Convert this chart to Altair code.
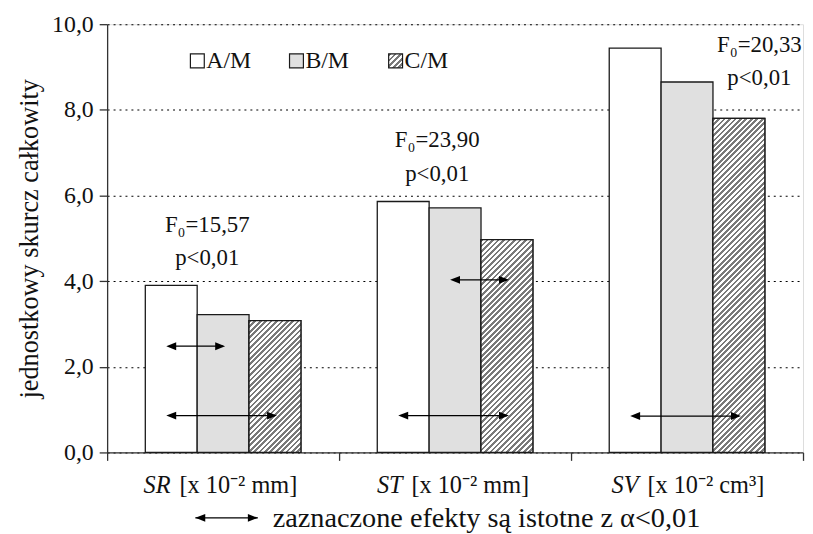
import math
import altair as alt
import pandas as pd

# ---------------- data ----------------
categories = ["SR", "ST", "SV"]
unit_labels = ["[x 10\u207b\u00b2 mm]", "[x 10\u207b\u00b2 mm]", "[x 10\u207b\u00b2 cm\u00b3]"]
groups = ["A/M", "B/M", "C/M"]
values_A = [3.90, 5.86, 9.44]
values_B = [3.22, 5.71, 8.65]
values_C = [3.08, 4.97, 7.80]
f_labels = ["F\u2080=15,57", "F\u2080=23,90", "F\u2080=20,33"]
p_labels = ["p<0,01", "p<0,01", "p<0,01"]
f_label_y = [5.32, 7.29, 9.51]
p_label_y = [4.54, 6.50, 8.75]
arrow_cat = ["SR", "SR", "ST", "ST", "SV"]
arrow_from = ["A/M", "A/M", "B/M", "A/M", "A/M"]
arrow_to = ["B/M", "C/M", "C/M", "C/M", "C/M"]
arrow_y = [2.48, 0.86, 4.03, 0.86, 0.85]
note_text = "zaznaczone efekty s\u0105 istotne z \u03b1<0,01"
y_title = "jednostkowy skurcz ca\u0142kowity"

# ---------------- style ----------------
W, H = 702, 432
FONT = "Liberation Serif"
FS = 23
OUTER_PAD = 0.736
ANNOT_DX = [-16, -18, 73]
LABEL_SPLIT = [(-53, -44), (-53, -44), (-49, -40)]
FILLS = ["#ffffff", "#e0e0e0", "#ffffff"]
STROKE = "#1a1a1a"

bar_w = (W / 3) / (3 + 2 * OUTER_PAD)


def hatch(w, h, period=3.9, color="#7a7a7a", frac=0.5):
    lam = (w + h) / (w * w + h * h)
    n = max(1, int(round((w + h) / (math.sqrt(2) * period))))
    stops = []
    for i in range(n):
        a, b, c = i / n, (i + frac) / n, (i + 1) / n
        stops += [
            {"offset": a, "color": color},
            {"offset": b, "color": color},
            {"offset": b, "color": "#ffffff"},
            {"offset": c, "color": "#ffffff"},
        ]
    return {"gradient": "linear", "x1": 0, "y1": 0, "x2": lam * w, "y2": lam * h, "stops": stops}


rows = []
for i, c in enumerate(categories):
    for g, vals in zip(groups, [values_A, values_B, values_C]):
        rows.append({"cat": c, "grp": g, "val": vals[i]})
bars_df = pd.DataFrame(rows)

x_enc = alt.X(
    "cat:N",
    scale=alt.Scale(domain=categories, paddingInner=0, paddingOuter=0),
    axis=alt.Axis(
        title=None, labels=False, tickBand="extent", tickSize=8, tickColor="#333",
        domainColor="#333", domainWidth=1.3, tickWidth=1.3, grid=False,
    ),
)
xo_enc = alt.XOffset("grp:N", scale=alt.Scale(domain=groups, paddingInner=0, paddingOuter=OUTER_PAD))
y_enc = alt.Y(
    "val:Q",
    scale=alt.Scale(domain=[0, 10], nice=False),
    axis=alt.Axis(
        values=[0, 2, 4, 6, 8, 10],
        labelExpr="replace(format(datum.value, '.1f'), '.', ',')",
        grid=True, gridDash=[2, 4], gridColor="#000", gridWidth=1.1,
        tickSize=8, tickColor="#333", tickWidth=1.3, domainColor="#333", domainWidth=1.3,
        labelFont=FONT, labelFontSize=24, labelColor="#111", labelPadding=6,
        title=y_title, titleFont=FONT, titleFontSize=26.5, titleFontWeight="normal",
        titleColor="#111", titlePadding=8,
    ),
)

base = alt.Chart(bars_df)
bars = base.mark_bar(stroke=STROKE, strokeWidth=1.3).encode(
    x=x_enc, xOffset=xo_enc, y=y_enc,
    fill=alt.Fill("grp:N", scale=alt.Scale(domain=groups, range=FILLS), legend=None),
)

layers = [bars]
for i, c in enumerate(categories):
    h = values_C[i] * H / 10
    layers.append(
        base.transform_filter((alt.datum.cat == c) & (alt.datum.grp == groups[2]))
        .mark_bar(stroke=STROKE, strokeWidth=1.3, fill=hatch(bar_w, h))
        .encode(x="cat:N", xOffset="grp:N", y="val:Q")
    )

# arrows
arows = []
for k, (c, a, b, yv) in enumerate(zip(arrow_cat, arrow_from, arrow_to, arrow_y)):
    arows.append({"id": k, "cat": c, "grp": a, "y": yv, "end": "L"})
    arows.append({"id": k, "cat": c, "grp": b, "y": yv, "end": "R"})
arr_df = pd.DataFrame(arows)
arr_base = alt.Chart(arr_df)
layers.append(
    arr_base.mark_line(color="#000", strokeWidth=1.3).encode(
        x="cat:N", xOffset="grp:N", y="y:Q", detail="id:N"
    )
)
layers.append(
    arr_base.transform_filter(alt.datum.end == "L")
    .mark_point(shape="M -1 0 L 1 -0.8 L 1 0.8 Z", size=100, filled=True, color="#000", opacity=1)
    .encode(x="cat:N", xOffset="grp:N", y="y:Q")
)
layers.append(
    arr_base.transform_filter(alt.datum.end == "R")
    .mark_point(shape="M 0.4 0 L -1.6 -0.8 L -1.6 0.8 Z", size=100, filled=True, color="#000", opacity=1)
    .encode(x="cat:N", xOffset="grp:N", y="y:Q")
)

# annotations
ann_rows = []
for i, c in enumerate(categories):
    ann_rows.append({"cat": c, "t": f_labels[i], "y": f_label_y[i]})
    ann_rows.append({"cat": c, "t": p_labels[i], "y": p_label_y[i]})
ann_df = pd.DataFrame(ann_rows)
for i, c in enumerate(categories):
    layers.append(
        alt.Chart(ann_df).transform_filter(alt.datum.cat == c)
        .mark_text(font=FONT, fontSize=FS, color="#111", align="center", baseline="middle", dx=ANNOT_DX[i])
        .encode(x="cat:N", y="y:Q", text="t:N")
    )

# x labels
lab_df = pd.DataFrame({"cat": categories, "unit": unit_labels})
for i, c in enumerate(categories):
    d_it, d_rest = LABEL_SPLIT[i]
    sub = alt.Chart(lab_df).transform_filter(alt.datum.cat == c)
    layers.append(
        sub.mark_text(font=FONT, fontSize=24.5, fontStyle="italic", color="#111", align="right",
                      baseline="middle", dx=d_it)
        .encode(x="cat:N", y=alt.value(H + 34), text="cat:N")
    )
    layers.append(
        sub.mark_text(font=FONT, fontSize=24.5, color="#111", align="left", baseline="middle", dx=d_rest)
        .encode(x="cat:N", y=alt.value(H + 34), text="unit:N")
    )

# legend
LEG_X = [91, 191, 291]
LEG_Y = 37
leg_fills = [FILLS[0], FILLS[1], hatch(14, 14)]
for i, g in enumerate(groups):
    gdf = pd.DataFrame({"g": [g]})
    layers.append(
        alt.Chart(gdf).mark_point(shape="square", size=196, filled=True, fill=leg_fills[i],
                                  stroke=STROKE, strokeWidth=1.2, opacity=1)
        .encode(x=alt.value(LEG_X[i]), y=alt.value(LEG_Y))
    )
    layers.append(
        alt.Chart(gdf).mark_text(font=FONT, fontSize=24, color="#111", align="left", baseline="middle")
        .encode(x=alt.value(LEG_X[i] + 9), y=alt.value(LEG_Y), text="g:N")
    )

# bottom note with arrow
ndf = pd.DataFrame({"t": [note_text]})
NOTE_Y = H + 66
layers.append(
    alt.Chart(ndf).mark_rule(color="#000", strokeWidth=1.3)
    .encode(x=alt.value(89), x2=alt.value(152), y=alt.value(NOTE_Y))
)
layers.append(
    alt.Chart(ndf).mark_point(shape="M -1 0 L 1 -0.8 L 1 0.8 Z", size=100, filled=True, color="#000", opacity=1)
    .encode(x=alt.value(94), y=alt.value(NOTE_Y))
)
layers.append(
    alt.Chart(ndf).mark_point(shape="M 1 0 L -1 -0.8 L -1 0.8 Z", size=100, filled=True, color="#000", opacity=1)
    .encode(x=alt.value(147), y=alt.value(NOTE_Y))
)
layers.append(
    alt.Chart(ndf).mark_text(font=FONT, fontSize=28.5, color="#111", align="left", baseline="middle")
    .encode(x=alt.value(167), y=alt.value(NOTE_Y), text="t:N")
)

chart = (
    alt.layer(*layers)
    .properties(
        width=W, height=H,
        autosize=alt.AutoSizeParams(type="none"),
        padding={"left": 100, "top": 14, "right": 2, "bottom": 86},
    )
    .configure_view(stroke=None)
    .configure(background="white")
)

chart.save("out.html", embed_options={"renderer": "svg", "actions": False})
